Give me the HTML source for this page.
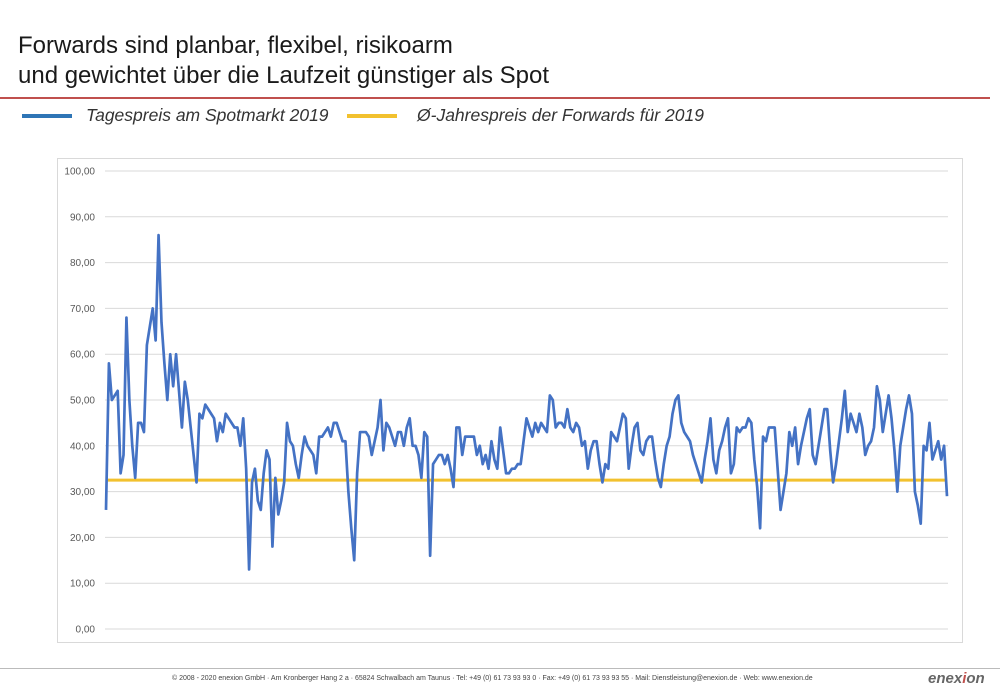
<!DOCTYPE html>
<html><head><meta charset="utf-8"><style>
body{margin:0;width:1000px;height:692px;background:#fff;font-family:"Liberation Sans",sans-serif;overflow:hidden;position:relative}
.t{position:absolute;left:18px;font-size:24px;color:#1a1a1a;white-space:nowrap}
</style></head><body>
<div class="t" style="top:32px">Forwards sind planbar, flexibel, risikoarm</div>
<div class="t" style="top:62px">und gewichtet über die Laufzeit günstiger als Spot</div>
<div style="position:absolute;left:0;top:97px;width:990px;height:2px;background:#c0504d"></div>
<div style="position:absolute;left:22px;top:105px;font-size:17.5px;font-style:italic;color:#333;white-space:nowrap"><span style="display:inline-block;width:50px;height:4px;background:#2e75b6;vertical-align:middle;margin-right:14px"></span>Tagespreis am Spotmarkt 2019</div>
<div style="position:absolute;left:347px;top:105px;font-size:17.5px;font-style:italic;color:#333;white-space:nowrap"><span style="display:inline-block;width:50px;height:4px;background:#f2c12e;vertical-align:middle;margin-right:20px"></span>Ø-Jahrespreis der Forwards für 2019</div>
<svg id="chart" width="1000" height="692" style="position:absolute;left:0;top:0"></svg>
<div style="position:absolute;left:0;top:668px;width:1000px;height:1px;background:#bbb"></div>
<div style="position:absolute;left:172px;top:675px;font-size:7px;color:#444;white-space:nowrap">© 2008 - 2020 enexion GmbH · Am Kronberger Hang 2 a · 65824 Schwalbach am Taunus · Tel: +49 (0) 61 73 93 93 0 · Fax: +49 (0) 61 73 93 93 55 · Mail: Dienstleistung@enexion.de · Web: www.enexion.de</div>
<div style="position:absolute;left:928px;top:670px;font-size:15px;font-weight:bold;font-style:italic;color:#666">enex<span style="color:#c0504d">i</span>on</div>
<script>
const yTicks=[0,10,20,30,40,50,60,70,80,90,100];
const yLabels=["0,00","10,00","20,00","30,00","40,00","50,00","60,00","70,00","80,00","90,00","100,00"];
const forward=32.5;
const spot=[26,58,50,51,52,34,38,68,50,40,33,45,45,43,62,66,70,63,86,67,58,50,60,53,60,52,44,54,50,44,38,32,
47,46,49,48,47,46,41,45,43,47,46,45,44,44,40,46,35,13,32,35,28,26,34,39,37,18,33,25,28,32,45,41,40,36,33,38,42,40,39,38,34,42,42,43,44,42,45,45,43,41,41,30,22,15,34,43,43,43,42,38,41,44,50,39,45,44,42,40,43,43,40,44,46,40,40,38,33,43,42,16,36,37,38,38,36,38,35,31,44,44,38,42,42,42,42,38,40,36,38,35,41,37,35,44,39,34,34,35,35,36,36,41,46,44,42,45,43,45,44,43,51,50,44,45,45,44,48,44,43,45,44,40,41,35,39,41,41,36,32,36,35,43,42,41,44,47,46,35,40,44,45,39,38,41,42,42,37,33,31,36,40,42,47,50,51,45,43,42,41,38,36,34,32,37,41,46,37,34,39,41,44,46,34,36,44,43,44,44,46,45,37,31,22,42,41,44,44,44,35,26,30,34,43,40,44,36,40,43,46,48,38,36,40,44,48,48,39,32,36,41,46,52,43,47,45,43,47,44,38,40,41,44,53,50,43,47,51,46,39,30,40,44,48,51,47,30,27,23,40,39,45,37,39,41,37,40,29];
const svg=document.getElementById('chart');const NS='http://www.w3.org/2000/svg';
const X0=106,X1=947,Y0=629,Y1=171;
const yS=v=>Y0-(v/100)*(Y0-Y1);
const xS=i=>X0+i*(X1-X0)/(spot.length-1);
function mk(t,a){const e=document.createElementNS(NS,t);for(const k in a)e.setAttribute(k,a[k]);svg.appendChild(e);return e;}
const box=mk('rect',{x:57.5,y:158.5,width:905,height:484,fill:'none',stroke:'#d9d9d9'});


yTicks.forEach((v,i)=>{
 const g=mk('line',{x1:105,x2:948,y1:yS(v),y2:yS(v),stroke:'#d9d9d9','stroke-width':1});
 
 
 const t=mk('text',{x:95,y:yS(v)+3.5,'text-anchor':'end','font-size':10,fill:'#595959','font-family':'Liberation Sans, sans-serif'});
 t.textContent=yLabels[i];
 
 
});
const f=mk('line',{x1:X0,x2:X1,y1:yS(forward),y2:yS(forward),stroke:'#f2c12e','stroke-width':3});


const p=mk('polyline',{points:spot.map((v,i)=>xS(i)+','+yS(v)).join(' '),fill:'none',stroke:'#4472c4','stroke-width':2.7,'stroke-linejoin':'round'});


</script>
</body></html>
